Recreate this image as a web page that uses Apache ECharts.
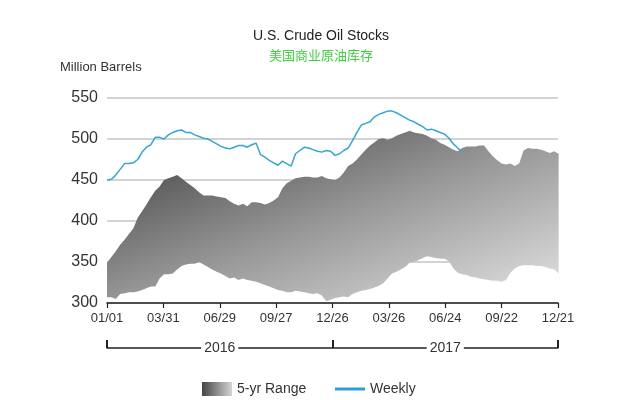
<!DOCTYPE html>
<html>
<head>
<meta charset="utf-8">
<script src="https://cdn.jsdelivr.net/npm/echarts@6/dist/echarts.min.js"></script>
<style>html,body{margin:0;padding:0;background:#fff;}#c{width:640px;height:400px;}</style>
</head>
<body>
<div id="c"></div>
<script>
const tickLabels = ['01/01','03/31','06/29','09/27','12/26','03/26','06/24','09/22','12/21'];
const years = ['2016','2017'];
const yearCenters = [180, 540];
const yearBounds = [0, 360, 720];
const daysPerWeek = 7;

const weekly = [450,451,456,463,470,470,471,475,484,490,493,502,502,500,505,508,510,511,508,508,
  505,503,501,500,497,494,491,489,488,490,492,492,490,493,495,481,478,474,471,468,
  473,470,467,482,486,490,489,487,485,484,486,485,480,482,486,489,498,508,517,519,
  521,527,530,532,534,534,532,529,526,523,521,518,515,511,512,510,508,506,501,494,
  489,484];

const rangeHigh = [349,356,363,371,377,384,391,404,412,420,429,437,442,450,452,454,456,452,448,444,
  440,435,431,431,431,430,429,428,424,421,419,421,418,423,423,422,420,422,425,429,
  440,446,449,452,453,454,454,453,453,455,452,451,450,453,459,467,470,475,481,487,
  492,496,500,501,499,501,504,506,508,510,508,507,506,504,501,499,495,493,490,487,
  485,489,491,491,491,492,492,485,479,474,470,469,470,467,470,486,489,488,488,487,
  485,483,485,482];

const rangeLow = [307,307,305,311,312,313,313,314,316,318,320,320,330,335,335,336,341,345,347,348,
  348,350,347,344,341,338,336,333,330,331,328,330,328,327,326,324,322,320,318,316,
  315,313,313,315,314,313,312,311,312,309,302,304,306,307,308,307,311,313,315,316,
  317,319,321,324,330,336,338,341,344,349,350,352,355,357,356,355,354,354,351,342,
  337,335,334,332,331,330,329,328,327,327,326,328,337,342,345,346,346,346,345,345,
  344,342,341,336];

const fontLatin = '"Liberation Sans", Arial, sans-serif';
const chart = echarts.init(document.getElementById('c'), null, {renderer: 'canvas'});

const bandData = rangeHigh.map((v, i) => [i * daysPerWeek, rangeLow[i], v]);
const weeklyData = weekly.map((v, i) => [i * daysPerWeek, v]);

const bandGradient = new echarts.graphic.LinearGradient(0, 0, 0.25, 1.75, [
  {offset: 0, color: '#3a3a3a'},
  {offset: 0.5, color: '#969696'},
  {offset: 1, color: '#e4e4e4'}
]);
const legendGradient = new echarts.graphic.LinearGradient(0, 0, 1, 0, [
  {offset: 0, color: '#444444'},
  {offset: 1, color: '#d4d4d4'}
]);

function renderBand(params, api) {
  if (params.dataIndex !== 0) return null;
  const upper = bandData.map(d => api.coord([d[0], d[2]]));
  const lower = bandData.map(d => api.coord([d[0], d[1]])).reverse();
  return {
    type: 'polygon',
    shape: {points: upper.concat(lower)},
    style: {fill: bandGradient, stroke: null}
  };
}

const legendText = {fontFamily: fontLatin, fontSize: 14, color: '#333'};

chart.setOption({
  animation: false,
  backgroundColor: '#fff',
  title: [
    {
      text: 'U.S. Crude Oil Stocks',
      subtext: '美国商业原油库存',
      left: 316, top: 24, textAlign: 'center', itemGap: 6,
      textStyle: {fontFamily: fontLatin, fontSize: 14, fontWeight: 'normal', color: '#222'},
      subtextStyle: {fontFamily: '"Noto Sans CJK SC", sans-serif', fontSize: 13, color: '#3fd03f'}
    },
    {
      text: 'Million Barrels',
      left: 55, top: 56,
      textStyle: {fontFamily: fontLatin, fontSize: 13, fontWeight: 'normal', color: '#333'}
    }
  ],
  legend: [
    {
      left: 197, top: 377,
      itemWidth: 30, itemHeight: 14,
      textStyle: legendText,
      data: [{name: '5-yr Range', icon: 'rect', itemStyle: {color: legendGradient}}]
    },
    {
      left: 330, top: 377,
      itemWidth: 30, itemHeight: 3,
      textStyle: legendText,
      data: [{name: 'Weekly', icon: 'rect', itemStyle: {color: '#2b9fd6'}}]
    }
  ],
  grid: {left: 107, right: 82, top: 98, bottom: 97},
  xAxis: [
    {
      type: 'value', min: 0, max: 720, interval: 90,
      axisLine: {show: true, lineStyle: {color: '#222', width: 1.5}},
      axisTick: {show: true, length: 5, lineStyle: {color: '#222', width: 1.2}},
      splitLine: {show: false},
      axisLabel: {
        margin: 9, fontFamily: fontLatin, fontSize: 13, color: '#333',
        formatter: v => tickLabels[Math.round(v / 90)]
      }
    },
    {
      type: 'value', min: 0, max: 720, position: 'bottom', offset: 45,
      axisLine: {show: true, lineStyle: {color: '#222', width: 1.5}},
      axisTick: {show: true, inside: true, length: 8, customValues: yearBounds, lineStyle: {color: '#222', width: 2}},
      splitLine: {show: false},
      axisLabel: {
        customValues: yearCenters, margin: 0, verticalAlign: 'middle',
        fontFamily: fontLatin, fontSize: 14, color: '#333',
        backgroundColor: '#fff', padding: [0, 3],
        formatter: v => years[yearCenters.indexOf(v)]
      }
    }
  ],
  yAxis: {
    type: 'value', min: 300, max: 550, interval: 50,
    axisLine: {show: false}, axisTick: {show: false},
    splitLine: {show: true, lineStyle: {color: '#c4c4c4', width: 1.5}},
    axisLabel: {margin: 9, fontFamily: fontLatin, fontSize: 16, color: '#333'}
  },
  series: [
    {
      name: '5-yr Range', type: 'custom', data: bandData,
      encode: {x: 0, y: [1, 2]},
      renderItem: renderBand,
      itemStyle: {color: '#888'},
      z: 2
    },
    {
      name: 'Weekly', type: 'line', data: weeklyData, symbol: 'none',
      lineStyle: {color: '#35a5d6', width: 1.5},
      itemStyle: {color: '#35a5d6'},
      z: 5
    }
  ]
});
</script>
</body>
</html>
